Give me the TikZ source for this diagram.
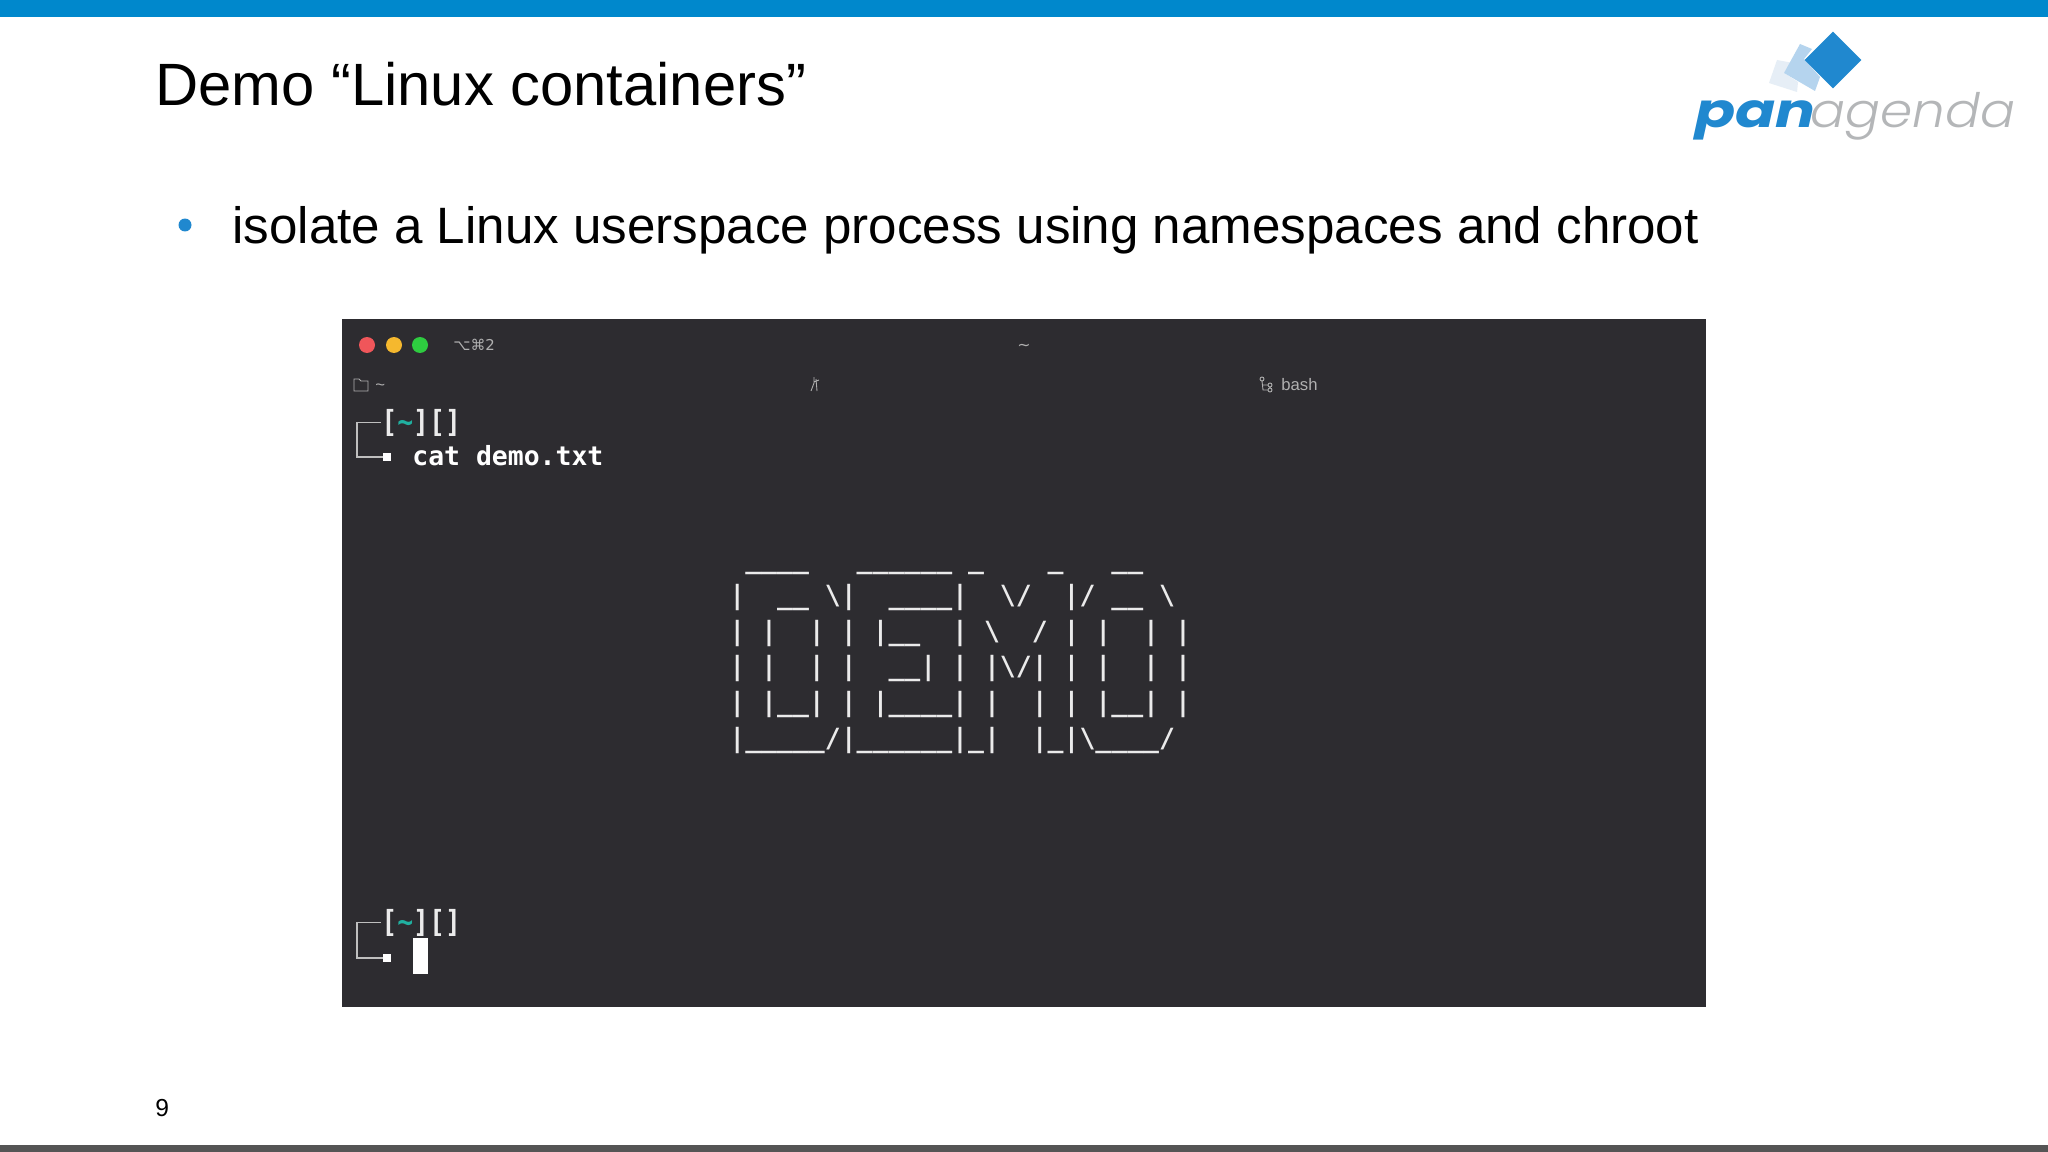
\documentclass[tikz,border=0pt]{standalone}
\usepackage{fontspec}
\usetikzlibrary{shapes.geometric}
\setmainfont{Liberation Sans}
\newfontfamily\termfont{DejaVu Sans Mono}
\newfontfamily\symfont{DejaVu Sans}
\newfontfamily\logofont{Poppins}[UprightFont=* Light, ItalicFont=* Light Italic, BoldFont=* Bold, BoldItalicFont=* Bold Italic]
\definecolor{barblue}{HTML}{0088CC}
\definecolor{bargrey}{HTML}{555555}
\definecolor{termbg}{HTML}{2D2C30}
\definecolor{logoblue}{HTML}{2088CF}
\definecolor{logomid}{HTML}{B5D4EE}
\definecolor{logopale}{HTML}{E6EEF6}
\definecolor{logogrey}{HTML}{B4B6B8}
\definecolor{promptteal}{HTML}{20B0A0}
\definecolor{termgrey}{HTML}{B0B0B0}
\definecolor{btnred}{HTML}{F0565A}
\definecolor{btnamber}{HTML}{F5B82E}
\definecolor{btngreen}{HTML}{2ECC40}
\newcommand{\bsl}{\textbackslash}
\newcommand{\tld}{\textasciitilde}

\begin{document}
\begin{tikzpicture}[x=0.02cm,y=-0.02cm,
    plain/.style ={inner sep=0pt, anchor=base west},
    slidetext/.style ={plain, font=\fontsize{34}{40}\selectfont},
    asciirow/.style ={plain, white!92!black, font=\termfont\bfseries\fontsize{15.05}{18}\selectfont},
    prompt/.style ={plain, white!92!black, transform shape, yscale=1.15, font=\termfont\bfseries\fontsize{15.05}{18}\selectfont},
    statustext/.style ={plain, termgrey, font=\fontsize{9.5}{11}\selectfont},
    promptline/.style ={draw=white!75!black, line width=0.7pt},
    promptmark/.style ={fill=white, inner sep=0pt, minimum size=0.16cm},
    winbutton/.style ={circle, inner sep=0pt, minimum size=0.32cm},
    icon/.style ={draw=termgrey, line width=0.5pt}]
   \useasboundingbox (0,0) rectangle (2048,1152);
   \fill[white] (0,0) rectangle (2048,1152);
   \fill[barblue] (0,0) rectangle (2048,17);
   \fill[bargrey] (0,1145) rectangle (2048,1152);

   \node[slidetext] (title) at (155,106) {Demo “Linux containers”};
   \node[circle, fill=logoblue, inner sep=0pt, minimum size=0.26cm] (bullet) at (185,225) {};
   \node[slidetext, font=\fontsize{29.1}{36}\selectfont] (point) at (232,243) {isolate a Linux userspace process using namespaces and chroot};
   \node[plain, font=\fontsize{14}{16}\selectfont] (page) at (155,1116) {9};

   % logo
   \fill[logopale] (1777,60) -- (1793,63) -- (1784,73) -- (1798,82) -- (1797,92) -- (1769,83) -- cycle;
   \fill[logomid] (1800,44) -- (1812,49) -- (1804,59) -- (1820,77) -- (1815,91) -- (1784,73) -- cycle;
   \node[fill=logoblue, diamond, aspect=1, inner sep=0pt, minimum size=1.14cm] (mark) at (1833,60) {};
   \node[plain, logoblue, transform shape, xscale=1.25, font=\logofont\bfseries\itshape\fontsize{27}{30}\selectfont] (pan) at (1695,128) {pan};
   \node[plain, logogrey, transform shape, xscale=1.09, font=\logofont\itshape\fontsize{27}{30}\selectfont] (agenda) at (1810,128) {agenda};

   % terminal window
   \fill[termbg] (342,319) rectangle (1706,1007);
   \node[winbutton, fill=btnred] (close) at (367,345) {};
   \node[winbutton, fill=btnamber] (shrink) at (394,345) {};
   \node[winbutton, fill=btngreen] (grow) at (420,345) {};
   \node[plain, termgrey, font=\symfont\fontsize{8.5}{11}\selectfont] (tabkey) at (453,350) {⌥⌘2};
   \node[plain, termgrey, font=\symfont\fontsize{9}{11}\selectfont] (wintitle) at (1017,350) {\tld};

   % status line
   \draw[icon] (354,391) -- (354,379) -- (359,379) -- (361,381) -- (368,381) -- (368,391) -- cycle;
   \node[statustext] (home) at (375,390) {\tld};
   \draw[icon] (814,377) -- (814,383) -- (811,391) (817,391) -- (816,379) (814,382) -- (819,380);
   \draw[icon] (1262,381) -- (1263,390) -- (1268,390) (1263,385) -- (1268,385)
       (1262,379) circle (2) (1270,385) circle (2) (1270,390) circle (2);
   \node[statustext] (shell) at (1281,390) {bash};

   % first prompt
   \node[prompt] (promptA) at (381,432) {[\textcolor{promptteal}{\tld}][]};
   \node[promptmark] (markA) at (387,457) {};
   \node[asciirow, white] (command) at (412,465) {cat demo.txt};
   \draw[promptline] (promptA.west) -- ++(-24,0) |- (markA.west);

   % banner
   \node[asciirow] (rowA) at (729,568) {~\_\_\_\_~~~\_\_\_\_\_\_~\_~~~~\_~~~\_\_};
   \node[asciirow] (rowB) at (729,604) {|~~\_\_~\bsl|~~\_\_\_\_|~~\bsl/~~|/~\_\_~\bsl};
   \node[asciirow] (rowC) at (729,640) {|~|~~|~|~|\_\_~~|~\bsl~~/~|~|~~|~|};
   \node[asciirow] (rowD) at (729,675) {|~|~~|~|~~\_\_|~|~|\bsl/|~|~|~~|~|};
   \node[asciirow] (rowE) at (729,711) {|~|\_\_|~|~|\_\_\_\_|~|~~|~|~|\_\_|~|};
   \node[asciirow] (rowF) at (729,747) {|\_\_\_\_\_/|\_\_\_\_\_\_|\_|~~|\_|\bsl\_\_\_\_/};

   % second prompt
   \node[prompt] (promptB) at (381,932) {[\textcolor{promptteal}{\tld}][]};
   \node[promptmark] (markB) at (387,958) {};
   \node[fill=white, inner sep=0pt, minimum width=0.31cm, minimum height=0.72cm] (cursor) at (420.5,956) {};
   \draw[promptline] (promptB.west) -- ++(-24,0) |- (markB.west);
\end{tikzpicture}
\end{document}
